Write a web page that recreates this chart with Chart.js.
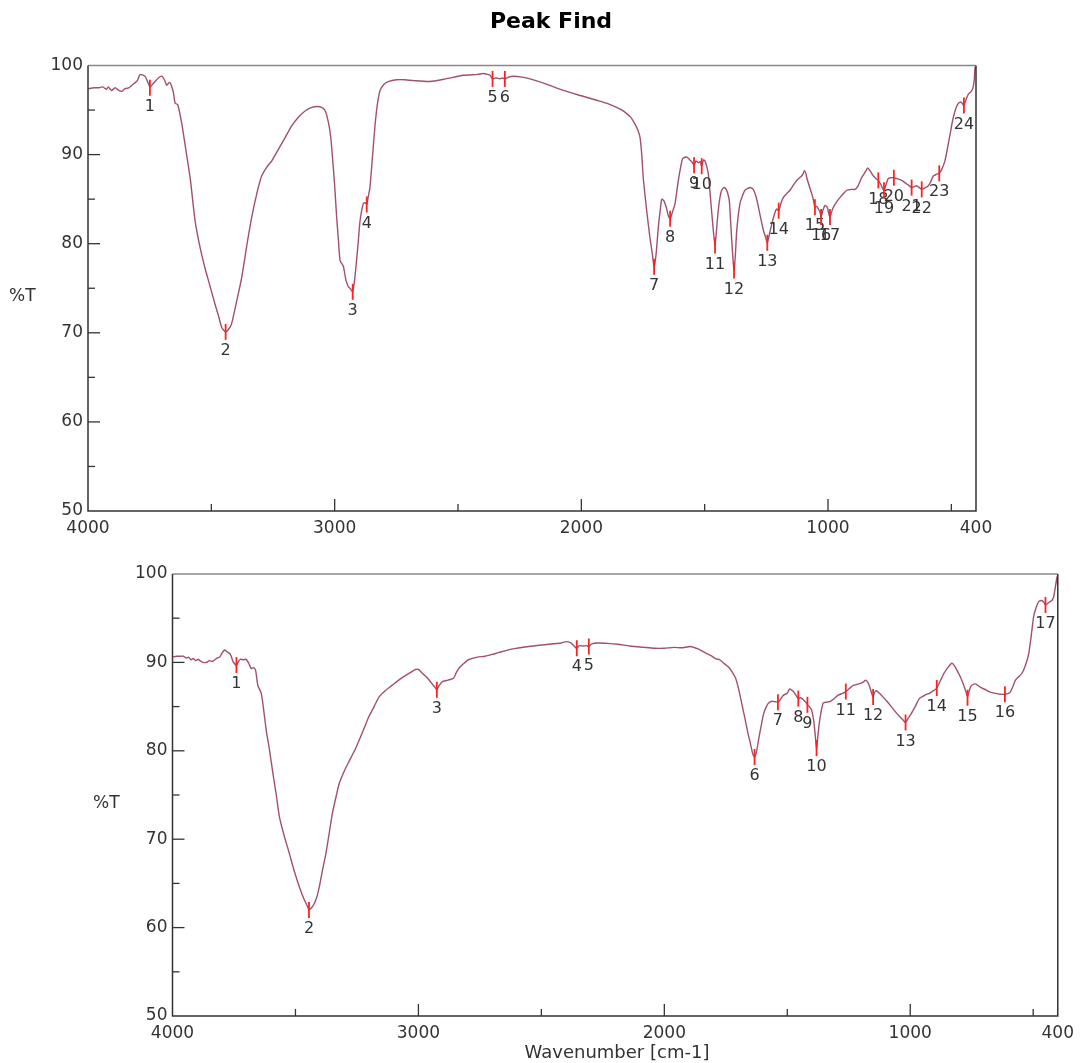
<!DOCTYPE html>
<html lang="en">
<head>
<meta charset="UTF-8">
<title>Peak Find</title>
<script src="https://cdn.jsdelivr.net/npm/chart.js"></script>
<style>
    body { margin: 0; background: #fff; }
    #page { position: relative; width: 1081px; height: 1063px; }
    canvas { position: absolute; left: 0; }
</style>
</head>
<body>
<div id="page">
    <canvas id="top-chart" width="1081" height="545" style="top:0"></canvas>
    <canvas id="bottom-chart" width="1081" height="518" style="top:545px"></canvas>
</div>
<script>
// axis ticks
const xTickValues = [4000, 3500, 3000, 2500, 2000, 1500, 1000, 500, 400];
const xTickLabels = ['4000', '', '3000', '', '2000', '', '1000', '', '400'];
const yTickValues = [50, 55, 60, 65, 70, 75, 80, 85, 90, 95, 100];
const yTickLabels = ['50', '', '60', '', '70', '', '80', '', '90', '', '100'];

// upper spectrum: wavenumber (cm-1) / %T
const topWave = [4000, 3975, 3955, 3940, 3925, 3918, 3905, 3890, 3875, 3863, 3850, 3835, 3823, 3812, 3800, 3789, 3775, 3769, 3760, 3749,
    3738, 3728, 3715, 3701, 3690, 3681, 3670, 3664, 3654, 3647, 3636, 3620, 3607, 3585, 3566, 3545, 3526, 3505, 3485, 3470,
    3458, 3442, 3430, 3418, 3400, 3377, 3355, 3336, 3315, 3296, 3275, 3255, 3230, 3201, 3175, 3147, 3120, 3093, 3070, 3053,
    3040, 3032, 3020, 3012, 3000, 2992, 2985, 2978, 2965, 2955, 2945, 2935, 2927, 2918, 2905, 2897, 2884, 2876, 2870, 2863,
    2857, 2846, 2836, 2826, 2816, 2800, 2783, 2750, 2715, 2680, 2614, 2550, 2479, 2420, 2397, 2380, 2370, 2360, 2345, 2330,
    2320, 2310, 2295, 2276, 2240, 2208, 2150, 2073, 2000, 1938, 1890, 1857, 1835, 1816, 1800, 1782, 1770, 1762, 1755, 1749,
    1742, 1735, 1722, 1712, 1705, 1697, 1688, 1680, 1674, 1665, 1655, 1648, 1640, 1630, 1620, 1610, 1600, 1590, 1580, 1570,
    1560, 1550, 1543, 1535, 1526, 1518, 1512, 1505, 1499, 1492, 1485, 1472, 1465, 1458, 1452, 1445, 1438, 1431, 1422, 1415,
    1408, 1400, 1391, 1381, 1375, 1370, 1357, 1345, 1337, 1316, 1303, 1292, 1282, 1270, 1262, 1254, 1246, 1238, 1228, 1215,
    1208, 1200, 1190, 1181, 1165, 1154, 1140, 1127, 1115, 1107, 1100, 1096, 1090, 1086, 1075, 1066, 1060, 1053, 1046, 1039,
    1033, 1028, 1020, 1012, 1003, 998, 992, 985, 978, 965, 951, 938, 924, 905, 891, 878, 864, 850, 839, 830,
    816, 805, 796, 785, 778, 773, 765, 756, 745, 733, 720, 708, 695, 681, 670, 661, 650, 641, 630, 620,
    605, 593, 583, 573, 560, 549, 538, 526, 515, 505, 495, 485, 475, 465, 457, 449, 440, 431, 422, 413,
    407, 404, 400];
const topT = [97.4, 97.5, 97.5, 97.6, 97.3, 97.6, 97.2, 97.5, 97.2, 97.1, 97.4, 97.5, 97.75, 98.0, 98.3, 99.0, 98.9, 98.8, 98.3, 97.6,
    97.9, 98.2, 98.6, 98.8, 98.4, 97.8, 98.1, 97.9, 97.0, 95.8, 95.6, 93.5, 91.2, 87.2, 82.6, 79.5, 77.3, 75.2, 73.2, 71.8,
    70.6, 70.1, 70.4, 71.0, 73.2, 76.2, 80.0, 83.0, 85.7, 87.6, 88.6, 89.3, 90.5, 91.9, 93.2, 94.2, 94.9, 95.3, 95.4, 95.3,
    95.0, 94.4, 92.8, 90.8, 86.5, 83.0, 80.5, 78.1, 77.5, 76.0, 75.2, 74.9, 74.6, 76.2, 80.0, 82.6, 84.5, 84.6, 84.4, 85.4,
    86.3, 90.0, 93.4, 95.8, 97.2, 97.9, 98.2, 98.4, 98.4, 98.3, 98.2, 98.5, 98.9, 99.0, 99.1, 99.0, 98.9, 98.5, 98.6, 98.5,
    98.6, 98.5, 98.7, 98.8, 98.7, 98.5, 98.0, 97.2, 96.6, 96.1, 95.7, 95.3, 95.0, 94.6, 94.2, 93.4, 92.7, 91.9, 90.0, 87.4,
    85.5, 83.7, 80.7, 78.8, 77.4, 78.8, 81.8, 83.8, 85.0, 84.8, 84.0, 83.2, 82.8, 83.6, 84.5, 86.5, 88.2, 89.5, 89.7, 89.7,
    89.4, 89.1, 88.8, 89.3, 89.1, 89.2, 88.7, 89.4, 89.3, 88.7, 87.8, 83.7, 81.5, 79.8, 81.5, 83.7, 85.2, 86.0, 86.3, 86.2,
    85.8, 84.8, 80.7, 77.0, 79.0, 81.5, 84.5, 85.5, 86.0, 86.3, 86.1, 85.3, 84.1, 82.5, 81.5, 80.8, 80.1, 81.0, 82.2, 83.5,
    83.9, 83.7, 84.6, 85.2, 85.7, 86.0, 86.6, 87.1, 87.4, 87.6, 87.9, 88.2, 87.9, 87.4, 86.4, 85.6, 85.0, 84.1, 84.2, 83.9,
    83.6, 83.0, 83.8, 84.3, 84.1, 83.5, 83.0, 83.6, 84.1, 84.7, 85.2, 85.6, 86.0, 86.1, 86.1, 86.5, 87.4, 88.0, 88.5, 88.2,
    87.6, 87.3, 87.1, 86.6, 86.2, 86.0, 86.6, 87.3, 87.4, 87.4, 87.3, 87.2, 87.0, 86.7, 86.5, 86.3, 86.4, 86.5, 86.3, 86.1,
    86.3, 86.5, 87.0, 87.6, 87.8, 87.9, 88.4, 89.3, 90.8, 92.3, 93.8, 94.9, 95.6, 95.9, 95.8, 95.5, 96.2, 96.8, 97.0, 97.4,
    98.4, 99.8, 99.5];
const topPeakWave = [3749, 3442, 2927, 2870, 2360, 2310, 1705, 1640, 1543, 1512, 1458, 1381, 1246, 1200, 1053, 1028, 992, 796, 773, 733, 661, 620, 549, 449];
const topPeakT = [97.5, 70.1, 74.6, 84.4, 98.5, 98.5, 77.4, 82.8, 88.8, 88.7, 79.8, 77.0, 80.1, 83.7, 84.1, 83.0, 83.0, 87.1, 86.0, 87.4, 86.3, 86.1, 87.9, 95.5];

// lower spectrum
const botWave = [4000, 3985, 3970, 3956, 3945, 3935, 3925, 3916, 3905, 3895, 3889, 3875, 3862, 3850, 3838, 3828, 3818, 3808, 3800, 3788,
    3778, 3767, 3760, 3754, 3740, 3732, 3724, 3712, 3700, 3690, 3680, 3670, 3662, 3653, 3639, 3630, 3619, 3605, 3592, 3578,
    3565, 3545, 3525, 3505, 3484, 3465, 3451, 3445, 3430, 3415, 3403, 3390, 3376, 3362, 3350, 3335, 3322, 3300, 3282, 3260,
    3241, 3220, 3201, 3180, 3160, 3135, 3107, 3080, 3053, 3030, 3012, 3000, 2985, 2965, 2945, 2933, 2925, 2915, 2904, 2880,
    2857, 2845, 2830, 2810, 2797, 2760, 2729, 2700, 2675, 2621, 2550, 2486, 2420, 2399, 2380, 2372, 2362, 2356, 2345, 2331,
    2318, 2307, 2295, 2271, 2230, 2190, 2140, 2082, 2040, 2001, 1960, 1930, 1893, 1870, 1853, 1835, 1812, 1790, 1775, 1758,
    1740, 1725, 1710, 1697, 1684, 1671, 1660, 1650, 1640, 1633, 1625, 1617, 1605, 1596, 1585, 1576, 1562, 1549, 1538, 1528,
    1515, 1500, 1491, 1483, 1475, 1465, 1455, 1445, 1434, 1425, 1418, 1410, 1401, 1393, 1387, 1381, 1375, 1370, 1362, 1354,
    1340, 1327, 1310, 1293, 1275, 1262, 1245, 1232, 1205, 1190, 1181, 1172, 1165, 1158, 1151, 1145, 1138, 1125, 1111, 1095,
    1077, 1060, 1044, 1030, 1019, 1008, 996, 980, 963, 940, 922, 905, 892, 878, 862, 845, 830, 820, 807, 795,
    785, 775, 767, 760, 754, 745, 733, 715, 693, 672, 652, 635, 615, 600, 592, 582, 572, 558, 545, 530,
    518, 508, 498, 488, 477, 464, 457, 450, 440, 430, 424, 417, 410, 403, 400];
const botT = [90.6, 90.7, 90.7, 90.7, 90.5, 90.6, 90.3, 90.45, 90.2, 90.35, 90.2, 90.0, 90.0, 90.2, 90.1, 90.3, 90.5, 90.6, 91.0, 91.4,
    91.2, 91.0, 90.6, 90.1, 89.7, 90.1, 90.35, 90.3, 90.35, 89.9, 89.3, 89.4, 89.1, 87.4, 86.5, 84.8, 82.35, 80.0, 77.5, 75.0,
    72.5, 70.3, 68.4, 66.4, 64.6, 63.2, 62.4, 62.0, 62.4, 63.3, 64.6, 66.5, 68.4, 70.8, 72.9, 74.8, 76.3, 77.8, 78.8, 80.0,
    81.2, 82.6, 83.9, 85.0, 86.1, 86.8, 87.4, 88.0, 88.5, 88.9, 89.2, 89.2, 88.8, 88.3, 87.6, 87.2, 86.9, 87.4, 87.8, 88.0,
    88.2, 88.9, 89.5, 90.0, 90.3, 90.6, 90.7, 90.9, 91.1, 91.5, 91.8, 92.0, 92.2, 92.35, 92.2, 92.0, 91.7, 91.6, 91.9, 91.85,
    91.9, 91.8, 92.1, 92.2, 92.15, 92.05, 91.85, 91.7, 91.6, 91.6, 91.7, 91.65, 91.8, 91.6, 91.4, 91.1, 90.8, 90.4, 90.3, 89.9,
    89.5, 88.95, 88.2, 86.9, 85.2, 83.5, 82.0, 80.85, 79.6, 79.3, 79.9, 81.2, 83.0, 84.2, 85.0, 85.4, 85.6, 85.55, 85.5, 85.8,
    86.3, 86.5, 87.0, 86.9, 86.7, 86.3, 85.9, 86.0, 85.75, 85.5, 85.2, 85.0, 84.6, 83.5, 82.0, 80.3, 81.8, 83.1, 84.5, 85.4,
    85.5, 85.55, 85.9, 86.3, 86.5, 86.7, 87.1, 87.4, 87.6, 87.8, 88.0, 87.7, 87.25, 86.6, 86.1, 86.6, 86.8, 86.5, 86.1, 85.6,
    85.0, 84.4, 83.9, 83.5, 83.2, 83.7, 84.2, 85.0, 85.9, 86.3, 86.5, 86.8, 87.1, 87.9, 88.8, 89.5, 89.9, 89.6, 88.95, 88.3,
    87.6, 86.8, 86.1, 86.8, 87.25, 87.5, 87.55, 87.2, 86.9, 86.6, 86.5, 86.4, 86.4, 86.5, 86.7, 87.3, 88.0, 88.4, 88.8, 89.8,
    91.0, 93.0, 95.2, 96.2, 96.9, 97.0, 96.8, 96.5, 96.7, 96.9, 97.0, 97.4, 98.5, 99.7, 98.6];
const botPeakWave = [3740, 3445, 2925, 2356, 2307, 1633, 1538, 1455, 1418, 1381, 1262, 1151, 1019, 892, 767, 615, 450];
const botPeakT = [89.7, 62.0, 86.9, 91.6, 91.8, 79.3, 85.5, 85.9, 85.2, 80.3, 86.7, 86.1, 83.2, 87.1, 86.0, 86.4, 96.5];

const curveColor = '#a0506e';
const textColor = '#333';
Chart.defaults.font.family = 'DejaVu Sans';

function scalesFor(yWidth, xHeight) {
    return {
        x: {
            type: 'linear', reverse: true, min: 400, max: 4000,
            grid: { display: false, drawTicks: false },
            border: { display: false },
            afterBuildTicks: s => { s.ticks = xTickValues.map(v => ({ value: v })); },
            afterFit: s => { s.height = xHeight; },
            ticks: {
                callback: (v, i) => xTickLabels[i],
                autoSkip: false, maxRotation: 0, padding: 7,
                color: textColor, font: { size: 17 }
            }
        },
        y: {
            min: 50, max: 100,
            grid: { display: false, drawTicks: false },
            border: { display: false },
            afterBuildTicks: s => { s.ticks = yTickValues.map(v => ({ value: v })); },
            afterFit: s => { s.width = yWidth; },
            ticks: {
                callback: (v, i) => yTickLabels[i],
                padding: 5, color: textColor, font: { size: 17 }
            }
        }
    };
}

// frame, inward ticks, peak marks
function decor(peakW, peakT, yTitleX, yTitleY, extra) {
    return {
        id: 'decor',
        afterDatasetsDraw(chart) {
            const { ctx, chartArea: a, scales: { x, y } } = chart;
            const seg = (x1, y1, x2, y2) => { ctx.beginPath(); ctx.moveTo(x1, y1); ctx.lineTo(x2, y2); ctx.stroke(); };
            ctx.save();
            ctx.lineWidth = 1.5;
            ctx.strokeStyle = '#888';
            seg(a.left, a.top, a.right, a.top);
            ctx.strokeStyle = '#333';
            ctx.beginPath();
            ctx.moveTo(a.left, a.top); ctx.lineTo(a.left, a.bottom);
            ctx.lineTo(a.right, a.bottom); ctx.lineTo(a.right, a.top);
            ctx.stroke();
            ctx.lineWidth = 1.3;
            x.ticks.forEach(t => {
                if (t.value === 400 || t.value === 4000) return;
                const px = x.getPixelForValue(t.value);
                seg(px, a.bottom, px, a.bottom - (t.value % 1000 === 0 ? 12 : 7));
            });
            y.ticks.forEach(t => {
                if (t.value === 50 || t.value === 100) return;
                const py = y.getPixelForValue(t.value);
                seg(a.left, py, a.left + (t.value % 10 === 0 ? 12 : 7), py);
            });

            ctx.strokeStyle = '#ff2020';
            ctx.lineWidth = 1.8;
            ctx.fillStyle = textColor;
            ctx.font = '16px "DejaVu Sans"';
            ctx.textAlign = 'center';
            ctx.textBaseline = 'middle';
            peakW.forEach((w, i) => {
                const px = x.getPixelForValue(w), py = y.getPixelForValue(peakT[i]);
                seg(px, py - 8, px, py + 8);
                ctx.fillText(String(i + 1), px, py + 19);
            });

            ctx.font = '17px "DejaVu Sans"';
            ctx.textAlign = 'left';
            ctx.fillText('%T', yTitleX, yTitleY);
            if (extra) extra(ctx);
            ctx.restore();
        }
    };
}

function spectrum(id, wave, t, peakW, peakT, yWidth, xHeight, pad, yTitleX, yTitleY, extra) {
    new Chart(document.getElementById(id), {
        type: 'line',
        data: {
            datasets: [{
                data: wave.map((w, i) => ({ x: w, y: t[i] })),
                borderColor: curveColor,
                borderWidth: 1.4,
                pointRadius: 0,
                tension: 0.2,
                fill: false
            }]
        },
        options: {
            responsive: false,
            animation: false,
            devicePixelRatio: 1,
            layout: { padding: pad },
            plugins: { legend: { display: false }, title: { display: false }, tooltip: { enabled: false } },
            scales: scalesFor(yWidth, xHeight)
        },
        plugins: [decor(peakW, peakT, yTitleX, yTitleY, extra)]
    });
}

spectrum('top-chart', topWave, topT, topPeakWave, topPeakT, 88, 545 - 511,
    { left: 0, right: 1081 - 976, top: 65.5, bottom: 0 }, 9, 297,
    ctx => {
        ctx.font = 'bold 22px "DejaVu Sans"';
        ctx.fillStyle = '#000';
        ctx.textAlign = 'center';
        ctx.fillText('Peak Find', 551, 22);
    });

spectrum('bottom-chart', botWave, botT, botPeakWave, botPeakT, 172.5, 518 - 471,
    { left: 0, right: 1081 - 1063.5, top: 29, bottom: 0 }, 93, 804 - 545,
    ctx => {
        ctx.font = '18px "DejaVu Sans"';
        ctx.fillStyle = textColor;
        ctx.textAlign = 'center';
        ctx.fillText('Wavenumber [cm-1]', 617, 1053 - 545);
    });
</script>
</body>
</html>
